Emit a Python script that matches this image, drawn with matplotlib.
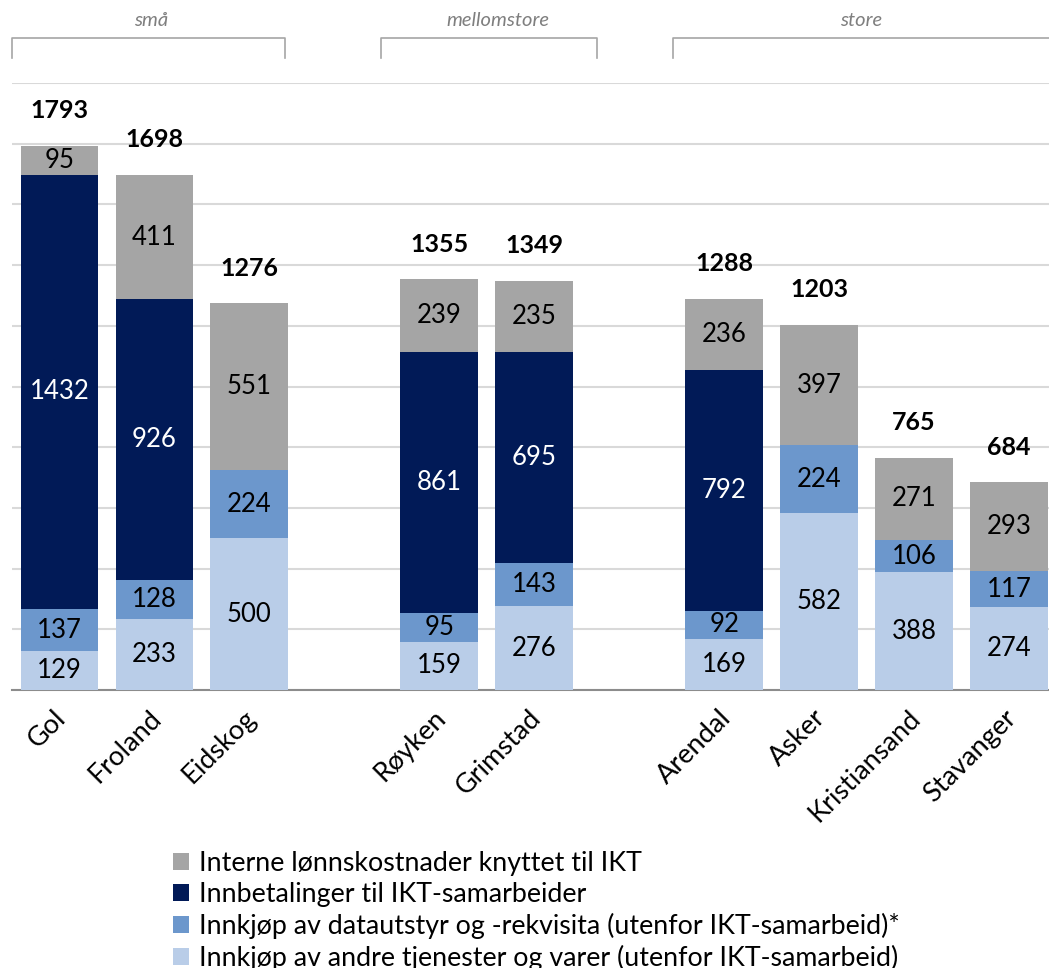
import numpy as np
import matplotlib.pyplot as plt
import matplotlib.transforms as mtransforms
from matplotlib.patches import Patch

plt.rcParams['font.family'] = ['Lato', 'DejaVu Sans']

# kommuner, gruppert etter størrelse (tom plass mellom gruppene)
kommuner = ['Gol', 'Froland', 'Eidskog', '', 'Røyken', 'Grimstad', '',
            'Arendal', 'Asker', 'Kristiansand', 'Stavanger']

andre = [129, 233, 500, 0, 159, 276, 0, 169, 582, 388, 274]
datautstyr = [137, 128, 224, 0, 95, 143, 0, 92, 224, 106, 117]
samarbeid = [1432, 926, 0, 0, 861, 695, 0, 792, 0, 0, 0]
lonn = [95, 411, 551, 0, 239, 235, 0, 236, 397, 271, 293]
totaler = ['1793', '1698', '1276', '', '1355', '1349', '',
           '1288', '1203', '765', '684']

grupper = ['små', 'mellomstore', 'store']

# serier nedenfra og opp: (verdier, farge, tekstfarge, legendetekst)
serier = [
    (andre, '#B9CDE8', 'black', 'Innkjøp av andre tjenester og varer (utenfor IKT-samarbeid)'),
    (datautstyr, '#6C97CC', 'black', 'Innkjøp av datautstyr og -rekvisita (utenfor IKT-samarbeid)*'),
    (samarbeid, '#011A57', 'white', 'Innbetalinger til IKT-samarbeider'),
    (lonn, '#A5A5A5', 'black', 'Interne lønnskostnader knyttet til IKT'),
]

fig = plt.figure(figsize=(10.49, 9.68), dpi=100)
ax = fig.add_axes([12 / 1049, 1 - 690 / 968, 1037 / 1049, 607 / 968])

x = np.arange(len(kommuner))
bunn = np.zeros(len(kommuner))
for verdier, farge, tekstfarge, navn in serier:
    v = np.array(verdier, dtype=float)
    ax.bar(x, v, bottom=bunn, width=0.82, color=farge, zorder=3)
    for xi, b, h in zip(x, bunn, v):
        if h > 0:
            ax.text(xi, b + h / 2, f'{int(h)}', ha='center', va='center',
                    fontsize=18.5, color=tekstfarge, zorder=4)
    bunn += v

for xi, topp, t in zip(x, bunn, totaler):
    if t:
        ax.text(xi, topp + 115, t, ha='center', va='center', fontsize=18,
                fontweight='bold', color='black', zorder=4)

ax.set_xlim(-0.5, 10.42)
ax.set_ylim(0, 2000)
ax.set_yticks(np.arange(0, 2001, 200))
ax.yaxis.grid(True, color='#D9D9D9', linewidth=1.5, zorder=0)
ax.tick_params(axis='y', left=False, labelleft=False)
ax.tick_params(axis='x', length=0, pad=11)
ax.set_xticks(x)
ax.set_xticklabels(kommuner, rotation=45, ha='right', rotation_mode='anchor',
                   fontsize=19.5)
skift = mtransforms.ScaledTranslation(-6 / 100, 0, fig.dpi_scale_trans)
for lbl in ax.get_xticklabels():
    lbl.set_transform(lbl.get_transform() + skift)
for s in ['top', 'right', 'left']:
    ax.spines[s].set_visible(False)
ax.spines['bottom'].set_color('#8C8C8C')
ax.spines['bottom'].set_linewidth(1.5)

# klammer over gruppene
trans = mtransforms.blended_transform_factory(ax.transData, fig.transFigure)
klammer = [(-0.5, 2.38), (3.39, 5.66), (6.46, 10.6)]
etikett_x = [0.96, 4.62, 8.44]
y_topp, y_bunn = 1 - 38 / 968, 1 - 58 / 968
for (a, b), tx, navn in zip(klammer, etikett_x, grupper):
    ax.plot([a, a, b, b], [y_bunn, y_topp, y_topp, y_bunn], color='#A6A6A6',
            linewidth=1.2, transform=trans, clip_on=False)
    ax.text(tx, 1 - 20 / 968, navn, transform=trans, ha='center', va='center',
            fontsize=14.5, style='italic', color='#7F7F7F')

handles = [Patch(facecolor=f, label=n) for _, f, _, n in reversed(serier)]
fig.legend(handles=handles, loc='upper left', bbox_to_anchor=(160 / 1049, 1 - 838 / 968),
           frameon=False, fontsize=19.3, handlelength=0.6, handleheight=0.6,
           handletextpad=0.35, labelspacing=0.22, borderpad=0)

fig.savefig('out.png', dpi=100)
